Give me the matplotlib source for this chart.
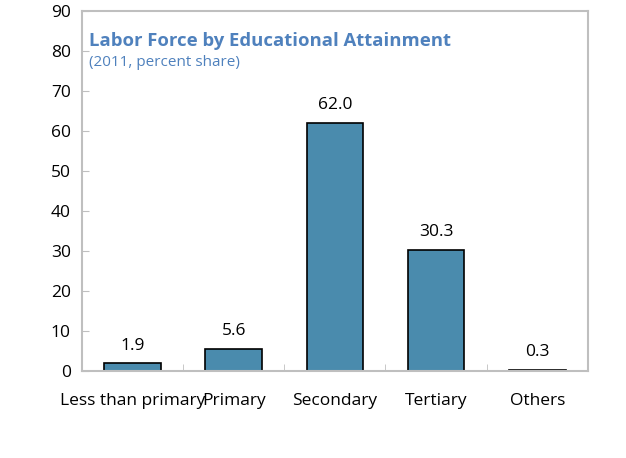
import matplotlib.pyplot as plt
import numpy as np

categories = ['Less than primary', 'Primary', 'Secondary', 'Tertiary', 'Others']
shares = [1.9, 5.6, 62.0, 30.3, 0.3]
labels = ['1.9', '5.6', '62.0', '30.3', '0.3']

plt.rcParams['font.family'] = ['Open Sans', 'DejaVu Sans']

fig = plt.figure(figsize=(6.26, 4.58), dpi=100)
ax = fig.add_axes([0.131, 0.19, 0.808, 0.786])

x = np.arange(len(categories))
ax.bar(x, shares, width=0.56, color='#4A8BAD', edgecolor='black', linewidth=1.2)

for xi, v, t in zip(x, shares, labels):
    ax.annotate(t, (xi, v), xytext=(0, 7), textcoords='offset points',
                ha='center', va='bottom', fontsize=12.5)

ax.set_xlim(-0.5, len(categories) - 0.5)
ax.set_ylim(0, 90)
ax.set_yticks(range(0, 91, 10))
ax.tick_params(axis='y', direction='in', length=5, color='#BFBFBF', labelsize=12.5, pad=8)

# category labels centred, ticks on the boundaries
ax.set_xticks(x)
ax.set_xticklabels(categories, fontsize=12.5)
ax.tick_params(axis='x', length=0, pad=16)
ax.set_xticks(np.arange(0.5, len(categories) - 0.5, 1), minor=True)
ax.tick_params(axis='x', which='minor', direction='in', length=5, color='#BFBFBF')

for s in ax.spines.values():
    s.set_color('#BFBFBF')
    s.set_linewidth(1.5)

ax.text(0.013, 0.917, 'Labor Force by Educational Attainment', transform=ax.transAxes,
        fontsize=13.3, fontweight='bold', color='#4F81BD', va='center')
ax.text(0.013, 0.857, '(2011, percent share)', transform=ax.transAxes,
        fontsize=11, color='#4F81BD', va='center')

fig.savefig('out.png', dpi=100)
